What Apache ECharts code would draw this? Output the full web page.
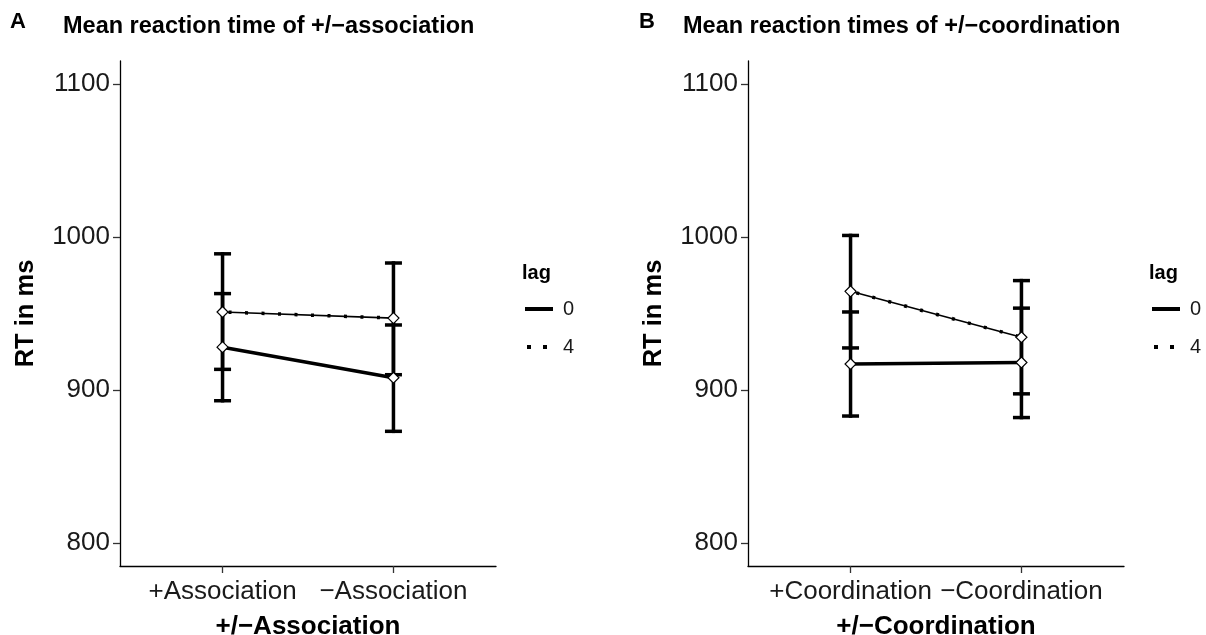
<!DOCTYPE html>
<html>
<head>
<meta charset="utf-8">
<script src="https://cdn.jsdelivr.net/npm/echarts@6/dist/echarts.min.js"></script>
<style>html,body{margin:0;padding:0;background:#fff}#c{width:1206px;height:635px}</style>
</head>
<body>
<div id="c"></div>
<script>
// ---- data ----
const catsA = ['+Association', '\u2212Association'];
const catsB = ['+Coordination', '\u2212Coordination'];
const yTicks = [800, 900, 1000, 1100];
const lags = ['0', '4'];

const meanA_lag0 = [928, 908];
const meanA_lag4 = [951, 947];
const lowA_lag0 = [893, 873];
const highA_lag0 = [963, 942.5];
const lowA_lag4 = [913.5, 910];
const highA_lag4 = [989, 983];

const meanB_lag0 = [917, 918];
const meanB_lag4 = [964.5, 934.5];
const lowB_lag0 = [883, 882];
const highB_lag0 = [951, 953.5];
const lowB_lag4 = [927.5, 897.5];
const highB_lag4 = [1001, 971.5];

// ---- helpers ----
const FONT = 'Liberation Sans, Arial, sans-serif';
const pts = (arr) => arr.map((v, i) => [i + 1, v]);
const errs = (lo, hi) => lo.map((v, i) => [i + 1, v, hi[i]]);

function errorRender(params, api) {
  const x = api.value(0), lo = api.value(1), hi = api.value(2);
  const p1 = api.coord([x, hi]), p2 = api.coord([x, lo]);
  const w = 8.5;
  const st = { stroke: '#000', lineWidth: 3.5 };
  return {
    type: 'group', children: [
      { type: 'line', shape: { x1: p1[0], y1: p1[1] - 1.75, x2: p2[0], y2: p2[1] + 1.75 }, style: st },
      { type: 'line', shape: { x1: p1[0] - w, y1: p1[1], x2: p1[0] + w, y2: p1[1] }, style: st },
      { type: 'line', shape: { x1: p2[0] - w, y1: p2[1], x2: p2[0] + w, y2: p2[1] }, style: st }
    ]
  };
}

function xAxis(idx, cats, name) {
  return {
    type: 'value', gridIndex: idx, min: 0.4, max: 2.6,
    name: name, nameLocation: 'middle', nameGap: 48,
    nameTextStyle: { fontFamily: FONT, fontWeight: 'bold', fontSize: 26, color: '#000' },
    axisLine: { show: true, lineStyle: { color: '#000', width: 1.3 } },
    axisTick: { show: true, length: 7, customValues: [1, 2], lineStyle: { color: '#333', width: 1.3 } },
    axisLabel: { show: true, customValues: [1, 2], margin: 13, fontFamily: FONT, fontSize: 26, color: '#1a1a1a',
      formatter: (v) => cats[Math.round(v) - 1] },
    splitLine: { show: false }
  };
}
function yAxis(idx) {
  return {
    type: 'value', gridIndex: idx, min: 785, max: 1115,
    name: 'RT in ms', nameLocation: 'middle', nameGap: 81, nameRotate: 90,
    nameTextStyle: { fontFamily: FONT, fontWeight: 'bold', fontSize: 25.5, color: '#000' },
    axisLine: { show: true, lineStyle: { color: '#000', width: 1.3 } },
    axisTick: { show: true, length: 7, customValues: yTicks, lineStyle: { color: '#333', width: 1.3 } },
    axisLabel: { show: true, customValues: yTicks, margin: 10, fontFamily: FONT, fontSize: 26, color: '#1a1a1a',
      formatter: (v) => String(v) },
    splitLine: { show: false }
  };
}

function panelSeries(idx, m0, m4, lo0, hi0, lo4, hi4) {
  const mk = { symbol: 'diamond', symbolSize: 11, itemStyle: { color: '#fff', borderColor: '#000', borderWidth: 1.2 } };
  return [
    { type: 'custom', name: 'err0', xAxisIndex: idx, yAxisIndex: idx, renderItem: errorRender, data: errs(lo0, hi0), z: 2, silent: true },
    { type: 'custom', name: 'err4', xAxisIndex: idx, yAxisIndex: idx, renderItem: errorRender, data: errs(lo4, hi4), z: 2, silent: true },
    { type: 'line', name: lags[1], xAxisIndex: idx, yAxisIndex: idx, data: pts(m4), showSymbol: false, symbol: 'none',
      lineStyle: { color: '#000', width: 1.6 }, z: 3, animation: false, silent: true },
    Object.assign({ type: 'line', name: lags[1], xAxisIndex: idx, yAxisIndex: idx, data: pts(m4),
      lineStyle: { color: '#000', width: 3.5, type: [3, 13.5], dashOffset: -6 }, z: 4, animation: false, silent: true }, mk),
    Object.assign({ type: 'line', name: lags[0], xAxisIndex: idx, yAxisIndex: idx, data: pts(m0),
      lineStyle: { color: '#000', width: 3.5 }, z: 4, animation: false, silent: true }, mk)
  ];
}

function legend(left) {
  const st = { color: '#000', borderColor: '#000', borderWidth: 0 };
  return {
    orient: 'vertical', left: left, top: 299, itemWidth: 28, itemHeight: 4, itemGap: 18, padding: 0,
    selectedMode: false,
    textStyle: { fontFamily: FONT, fontSize: 20, color: '#1a1a1a', padding: [0, 0, 0, 5] },
    data: [
      { name: lags[0], icon: 'path://M0,0L28,0L28,4L0,4Z', itemStyle: st },
      { name: lags[1], icon: 'path://M0,0 M2,0h4v4h-4z M18,0h4v4h-4z M28,4', itemStyle: st }
    ]
  };
}

const chart = echarts.init(document.getElementById('c'), null, { renderer: 'canvas' });
const titleStyle = { fontFamily: FONT, fontWeight: 'bold', fontSize: 23.5, color: '#000' };
const lagStyle = { fontFamily: FONT, fontWeight: 'bold', fontSize: 20, color: '#000' };
chart.setOption({
  animation: false,
  backgroundColor: '#fff',
  title: [
    { text: 'A', left: 10, top: 11, padding: 0, textStyle: Object.assign({}, titleStyle, { fontSize: 22 }) },
    { text: 'Mean reaction time of +/\u2212association', left: 63, top: 15, padding: 0, textStyle: titleStyle },
    { text: 'B', left: 639, top: 11, padding: 0, textStyle: Object.assign({}, titleStyle, { fontSize: 22 }) },
    { text: 'Mean reaction times of +/\u2212coordination', left: 683, top: 15, padding: 0, textStyle: titleStyle },
    { text: 'lag', left: 522, top: 263, padding: 0, textStyle: lagStyle },
    { text: 'lag', left: 1149, top: 263, padding: 0, textStyle: lagStyle }
  ],
  legend: [legend(525), legend(1152)],
  grid: [
    { left: 120, top: 61, width: 376, height: 505, outerBoundsMode: 'none', containLabel: false },
    { left: 748, top: 61, width: 376, height: 505, outerBoundsMode: 'none', containLabel: false }
  ],
  xAxis: [xAxis(0, catsA, '+/\u2212Association'), xAxis(1, catsB, '+/\u2212Coordination')],
  yAxis: [yAxis(0), yAxis(1)],
  series: [].concat(
    panelSeries(0, meanA_lag0, meanA_lag4, lowA_lag0, highA_lag0, lowA_lag4, highA_lag4),
    panelSeries(1, meanB_lag0, meanB_lag4, lowB_lag0, highB_lag0, lowB_lag4, highB_lag4)
  )
});
</script>
</body>
</html>
